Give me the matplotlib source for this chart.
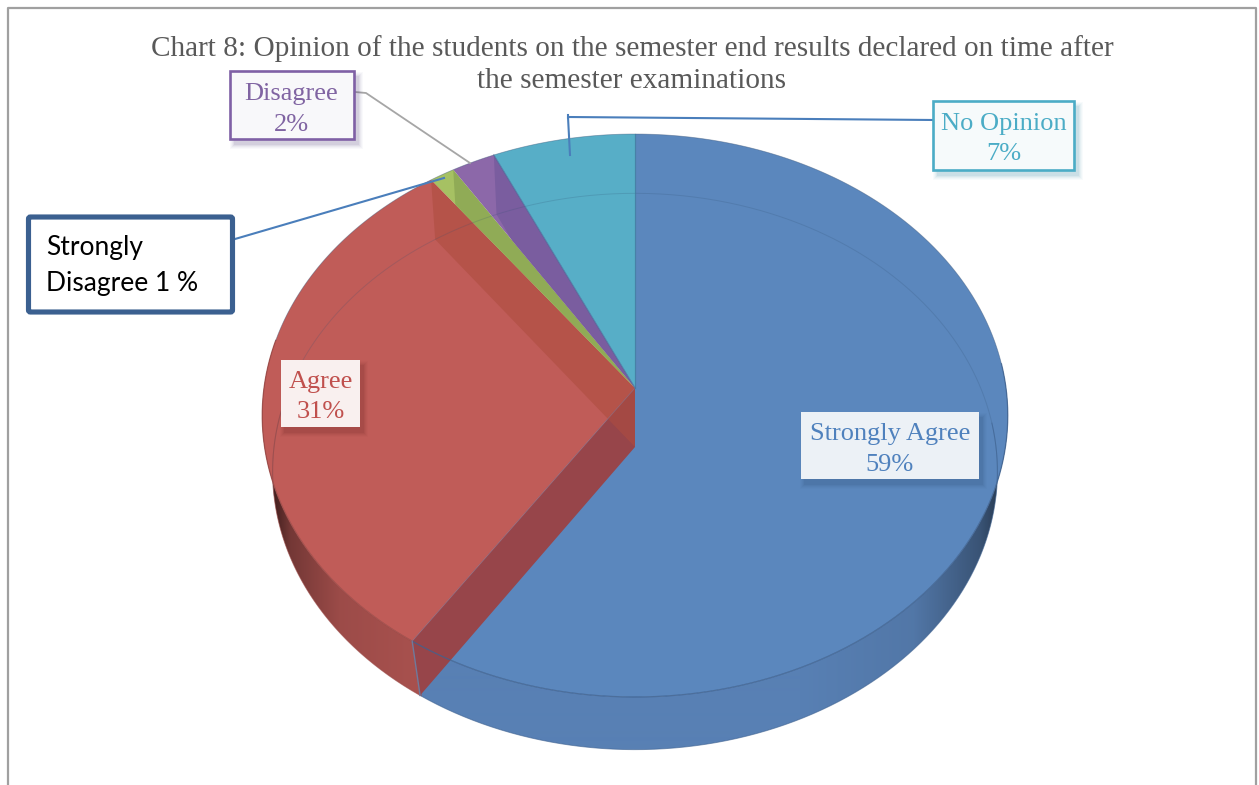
import numpy as np
import matplotlib
matplotlib.use('Agg')
import matplotlib.pyplot as plt
from matplotlib.patches import Polygon, Rectangle, FancyBboxPatch

# data, clockwise from 12 o'clock (slice sizes, labels as printed)
categories = ['Strongly Agree', 'Agree', 'Strongly Disagree', 'Disagree', 'No Opinion']
values = [59.3, 30.6, 1.2, 2.1, 6.8]
label_values = ['59%', '31%', '1 %', '2%', '7%']
title_lines = ['Chart 8: Opinion of the students on the semester end results declared on time after',
               'the semester examinations']
colors = ['#5b87bd', '#c05c58', '#a6c163', '#8c68a9', '#57aec7']
wall_colors = ['#97454a', '#ae4d40', '#90ab56', '#7a5d9f', '#57aec7']
side_colors = ['#5880b4', '#aa524f']
rim_colors = ['#3f6290', '#9a4845']

# camera: pixel centre, radius, vertical scale and perspective of each disc
CX = 635
TOP = dict(y0=388, k=278.8, c=0.0977, r=371)
BOT = dict(y0=447, k=276.0, c=0.088, r=361)


def proj(deg, disc):
    t = np.radians(deg)
    u, v = np.sin(t), np.cos(t)
    d = 1 + disc['c'] * v
    return np.column_stack([CX + disc['r'] * u / d, disc['y0'] - disc['k'] * v / d]).squeeze()


def arc(a, b, disc):
    n = max(int(abs(b - a)) * 2, 2)
    return proj(np.linspace(a, b, n), disc)


def apex(disc):
    return np.array([CX, disc['y0']])


fig = plt.figure(figsize=(12.59, 7.85), dpi=100)
ax = fig.add_axes([0, 0, 1, 1])

edges = 360 * np.cumsum([0] + values) / sum(values)

# rim: horizontal shading, darker towards both ends, clipped to each slice's outline
xs = np.arange(0, 1259)
shade_x = [262, 275, 290, 340, 430, 800, 913, 980, 1000, 1010]
shade_f = [0.30, 0.42, 0.68, 0.92, 1.0, 1.0, 0.93, 0.65, 0.45, 0.35]
f = np.interp(xs, shade_x, shade_f)
for i, (start, end) in enumerate([(85, edges[1]), (edges[1] - 0.3, 280)]):
    strip = np.outer(f, matplotlib.colors.to_rgb(side_colors[i]))[np.newaxis, :, :]
    im = ax.imshow(strip, extent=(0, 1259, 785, 0), aspect='auto', interpolation='bilinear', zorder=2)
    outline = np.vstack([arc(start, end, TOP), arc(end, start, BOT)])
    clip = Polygon(outline, closed=True, fc='none', ec='none', transform=ax.transData)
    ax.add_patch(clip)
    im.set_clip_path(clip)

ax.set_xlim(0, 1259)
ax.set_ylim(785, 0)
ax.axis('off')

# outer frame (no bottom edge)
ax.plot([8, 8, 1256.5, 1256.5], [785, 7.5, 7.5, 785], color='#a0a0a0', lw=1.6, zorder=1)

# top faces
wedges = []
for i in range(len(values)):
    pts = np.vstack([apex(TOP), arc(edges[i], edges[i + 1], TOP)])
    w = Polygon(pts, closed=True, fc=colors[i], ec='none', zorder=3)
    ax.add_patch(w)
    wedges.append(w)


# walls seen through the translucent faces
def wall(deg, col, z, alpha=1.0, clip=None):
    q = np.vstack([apex(TOP), proj(deg, TOP), proj(deg, BOT), apex(BOT)])
    p = Polygon(q, closed=True, fc=col, ec='none', alpha=alpha, zorder=z)
    ax.add_patch(p)
    if clip is not None:
        p.set_clip_path(clip)
    return q


q59 = wall(edges[1], wall_colors[0], 4)
wall(edges[2], wall_colors[1], 5, alpha=0.6)
wall(edges[3], wall_colors[2], 5, clip=wedges[2])
wall(edges[4], wall_colors[3], 5, clip=wedges[3])

# edge lines
ring = arc(-100, 100, BOT)
ax.plot(ring[:, 0], ring[:, 1], color='#2f4f70', lw=0.7, alpha=0.2, zorder=6)
for i, (start, end) in enumerate([(85, edges[1]), (edges[1], 280)]):
    rim = arc(start, end, TOP)
    ax.plot(rim[:, 0], rim[:, 1], color=rim_colors[i], lw=0.9, alpha=0.8, zorder=6)
    front = arc(start, end, BOT)
    ax.plot(front[:, 0], front[:, 1], color=rim_colors[i], lw=0.7, alpha=0.6, zorder=6)
top_rim = arc(-80, 85, TOP)
ax.plot(top_rim[:, 0], top_rim[:, 1], color='#40597a', lw=0.6, alpha=0.45, zorder=6)
ax.plot(q59[[1, 2], 0], q59[[1, 2], 1], color='#6f7a9c', lw=1.0, zorder=6)
ax.plot(q59[[0, 1], 0], q59[[0, 1], 1], color='#8a6a80', lw=0.7, alpha=0.6, zorder=6)
a = np.vstack([apex(TOP), proj(edges[0], TOP)])
ax.plot(a[:, 0], a[:, 1], color='#3f7f9f', lw=0.9, alpha=0.7, zorder=6)
a = np.vstack([apex(TOP), proj(edges[4], TOP)])
ax.plot(a[:, 0], a[:, 1], color='#4a6a9a', lw=0.9, alpha=0.7, zorder=6)

# leader lines
ax.plot([934, 568, 570], [120, 117, 155], color='#4a7ebb', lw=1.5, zorder=7)
ax.plot([568, 568], [115, 118], color='#4a7ebb', lw=1.5, zorder=7)
ax.plot([355, 366, 470], [92, 93, 163], color='#a6a6a6', lw=1.3, zorder=7)
ax.plot([235, 444], [239, 178], color='#4a7ebb', lw=1.5, zorder=7)


def box(x, y, w, h, face, edge, lw, shadow):
    if shadow:
        for g, al in zip([9, 7, 5, 3, 1], [0.03, 0.04, 0.05, 0.07, 0.09]):
            ax.add_patch(Rectangle((x + 3 - g / 2 + 1, y + 3 - g / 2 + 2), w + g, h + g,
                                   fc=shadow, ec='none', alpha=al, zorder=8))
    ax.add_patch(Rectangle((x, y), w, h, fc=face, ec=edge, lw=lw, zorder=9))


box(801, 412, 178, 67, '#ecf1f6', 'none', 0, '#2a4a75')
box(281, 360, 79, 67, '#f9f0ef', 'none', 0, '#6a2220')
box(230.5, 71, 124, 68, '#f8f8fa', '#7f60a5', 1.9, '#5a4a80')
box(933.5, 101, 141, 69, '#f6fafb', '#4bacc6', 1.9, '#3a8ca6')
ax.add_patch(FancyBboxPatch((28.5, 217), 204, 95, boxstyle='round,pad=0,rounding_size=2',
                            fc='white', ec='#3b6090', lw=3.7, zorder=9))

serif = dict(family='Liberation Serif', fontsize=19, ha='center', va='center', zorder=10)
ax.text(890, 434, categories[0], color='#4f81bd', **serif)
ax.text(890, 465, label_values[0], color='#4f81bd', **serif)
ax.text(320.5, 382, categories[1], color='#c0504d', **serif)
ax.text(320.5, 412, label_values[1], color='#c0504d', **serif)
ax.text(291, 94, categories[3], color='#8064a2', **serif)
ax.text(291, 125, label_values[3], color='#8064a2', **serif)
ax.text(1004, 124, categories[4], color='#4bacc6', **serif)
ax.text(1004, 154, label_values[4], color='#4bacc6', **serif)

first, second = categories[2].split(' ', 1)
sans = dict(family='Lato', fontsize=19, color='black', ha='left', va='center', zorder=10)
ax.text(46, 247, first, **sans)
ax.text(46, 283, second + ' ' + label_values[2], **sans)

title_style = dict(family='Liberation Serif', fontsize=21.1, color='#595959',
                   ha='center', va='center', zorder=10)
ax.text(632, 49, title_lines[0], **title_style)
ax.text(632, 81, title_lines[1], **title_style)

fig.savefig('out.png', dpi=100)
